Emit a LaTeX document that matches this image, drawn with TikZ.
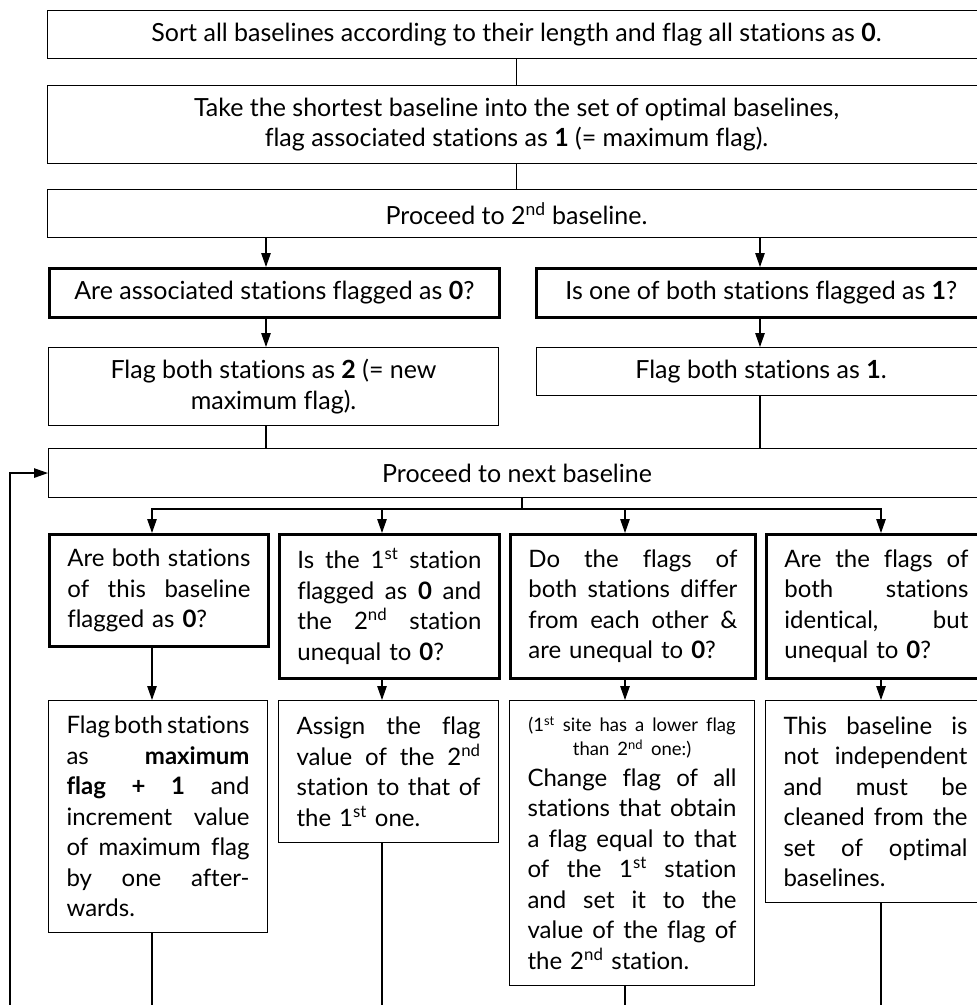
\documentclass[tikz,border=0pt]{standalone}
\usepackage{fontspec}
\setmainfont{Lato}[Ligatures=NoCommon]
\usetikzlibrary{arrows.meta}
\frenchspacing

% one fully justified line of a box paragraph
\newcommand{\jline}[1]{\makebox[\hsize][s]{\spaceskip=0.15em plus 1fil\relax#1}}
% one centred line of a box paragraph
\newcommand{\midline}[1]{\makebox[\hsize][c]{#1}}
% smaller print for the remark in the third action box
\newcommand{\smalltxt}{\fontsize{18.5pt}{24pt}\selectfont}
% print size inside the narrow boxes
\newcommand{\boxtxt}{\fontsize{24pt}{30.5pt}\selectfont}

\begin{document}
\begin{tikzpicture}[x=1pt,y=-1pt,
  font=\fontsize{25pt}{30.5pt}\selectfont,
  box/.style={draw, line width=1.1pt, inner sep=0pt, anchor=north west},
  thick box/.style={box, line width=2.8pt},
  wrap/.style={text width=#1, align=left, font=\boxtxt},
  conn/.style={line width=1.2pt},
  arr/.style={conn, -{Triangle[length=14pt,width=9.5pt]}},
]
\useasboundingbox (0,0) rectangle (977,1005);
\clip (0,0) rectangle (977,1005);

% ---- initialisation ----
\node[box, minimum width=938pt, minimum height=48pt] (b1) at (47,10)
  {Sort all baselines according to their length and flag all stations as \textbf{0}.};
\node[box, minimum width=938pt, minimum height=78pt, align=center] (b2) at (47,85)
  {Take the shortest baseline into the set of optimal baselines,\\flag associated stations as \textbf{1} (= maximum flag).};
\node[box, minimum width=938pt, minimum height=48pt] (b3) at (47,189)
  {Proceed to 2\textsuperscript{nd} baseline.};

% ---- second baseline ----
\node[thick box, minimum width=450pt, minimum height=49pt] (b4) at (48,267)
  {Are associated stations flagged as \textbf{0}?};
\node[thick box, minimum width=450pt, minimum height=49pt] (b5) at (535,267)
  {Is one of both stations flagged as \textbf{1}?};
\node[box, minimum width=450pt, minimum height=78pt, align=center] (b6) at (48,347)
  {Flag both stations as \textbf{2} (= new\\maximum flag).};
\node[box, minimum width=449pt, minimum height=48pt] (b7) at (536,347)
  {Flag both stations as \textbf{1}.};

% ---- loop over the remaining baselines ----
\node[box, minimum width=937pt, minimum height=49pt] (b8) at (48,448)
  {Proceed to next baseline};

\node[thick box, minimum width=219pt, minimum height=112pt, wrap=183pt] (qA) at (48,533)
  {\jline{Are both stations}\\\jline{of this baseline}\\flagged as \textbf{0}?};
\node[thick box, minimum width=220pt, minimum height=144pt, wrap=184pt] (qB) at (278,533)
  {\jline{Is the 1\textsuperscript{st} station}\\\jline{flagged as \textbf{0} and}\\\jline{the 2\textsuperscript{nd} station}\\unequal to \textbf{0}?};
\node[thick box, minimum width=245pt, minimum height=144pt, wrap=209pt] (qC) at (509,533)
  {\jline{Do the flags of}\\\jline{both stations differ}\\\jline{from each other \&}\\are unequal to \textbf{0}?};
\node[thick box, minimum width=220pt, minimum height=144pt, wrap=184pt] (qD) at (765,533)
  {\jline{Are the flags of}\\\jline{both stations}\\\jline{identical, but}\\unequal to \textbf{0}?};

\node[box, minimum width=219pt, minimum height=232pt, wrap=183pt] (rA) at (48,700)
  {\jline{Flag both stations}\\\jline{as \textbf{maximum}}\\\jline{\textbf{flag + 1} and}\\\jline{increment value}\\\jline{of maximum flag}\\\jline{by one after-}\\wards.};
\node[box, minimum width=220pt, minimum height=142pt, wrap=184pt] (rB) at (278,700)
  {\jline{Assign the flag}\\\jline{value of the 2\textsuperscript{nd}}\\\jline{station to that of}\\the 1\textsuperscript{st} one.};
\node[box, minimum width=245pt, minimum height=285pt, wrap=209pt] (rC) at (509,700)
  {\midline{\smalltxt (1\textsuperscript{st} site has a lower flag}\\[-6.5pt]%
   \midline{\smalltxt than 2\textsuperscript{nd} one:)}\\%
   \jline{Change flag of all}\\\jline{stations that obtain}\\\jline{a flag equal to that}\\%
   \jline{of the 1\textsuperscript{st} station}\\\jline{and set it to the}\\\jline{value of the flag of}\\%
   the 2\textsuperscript{nd} station.};
\node[box, minimum width=220pt, minimum height=202pt, wrap=184pt] (rD) at (765,700)
  {\jline{This baseline is}\\\jline{not independent}\\\jline{and must be}\\\jline{cleaned from the}\\\jline{set of optimal}\\baselines.};

% ---- connector positions ----
\coordinate (xL) at (266,0);
\coordinate (xR) at (760,0);
\coordinate (split) at (522,509);
\coordinate (xA) at (152,0);
\coordinate (xB) at (382,0);
\coordinate (xC) at (625,0);
\coordinate (xD) at (881,0);
\coordinate (floor) at (0,1015);
\coordinate (loop) at (10,0);

% ---- connectors ----
\draw[conn] (b1) -- (b2);
\draw[conn] (b2) -- (b3);
\draw[arr] (b3.south -| xL) -- (b4.north -| xL);
\draw[arr] (b3.south -| xR) -- (b5.north -| xR);
\draw[arr] (b4.south -| xL) -- (b6.north -| xL);
\draw[arr] (b5.south -| xR) -- (b7.north -| xR);
\draw[conn] (b6.south -| xL) -- (b8.north -| xL);
\draw[conn] (b7.south -| xR) -- (b8.north -| xR);

\draw[conn] (b8.south -| split) -- (split);
\draw[arr] (split) -| (qA.north -| xA);
\draw[arr] (split) -| (qD.north -| xD);
\draw[arr] (split -| xB) -- (qB.north -| xB);
\draw[arr] (split -| xC) -- (qC.north -| xC);

\foreach \k/\x in {A/xA, B/xB, C/xC, D/xD} {
  \draw[arr] (q\k.south -| \x) -- (r\k.north -| \x);
  \draw[conn] (r\k.south -| \x) -- (floor -| \x);
}

% back to the next baseline
\draw[arr] (floor -| loop) |- (b8.west);
\end{tikzpicture}
\end{document}
